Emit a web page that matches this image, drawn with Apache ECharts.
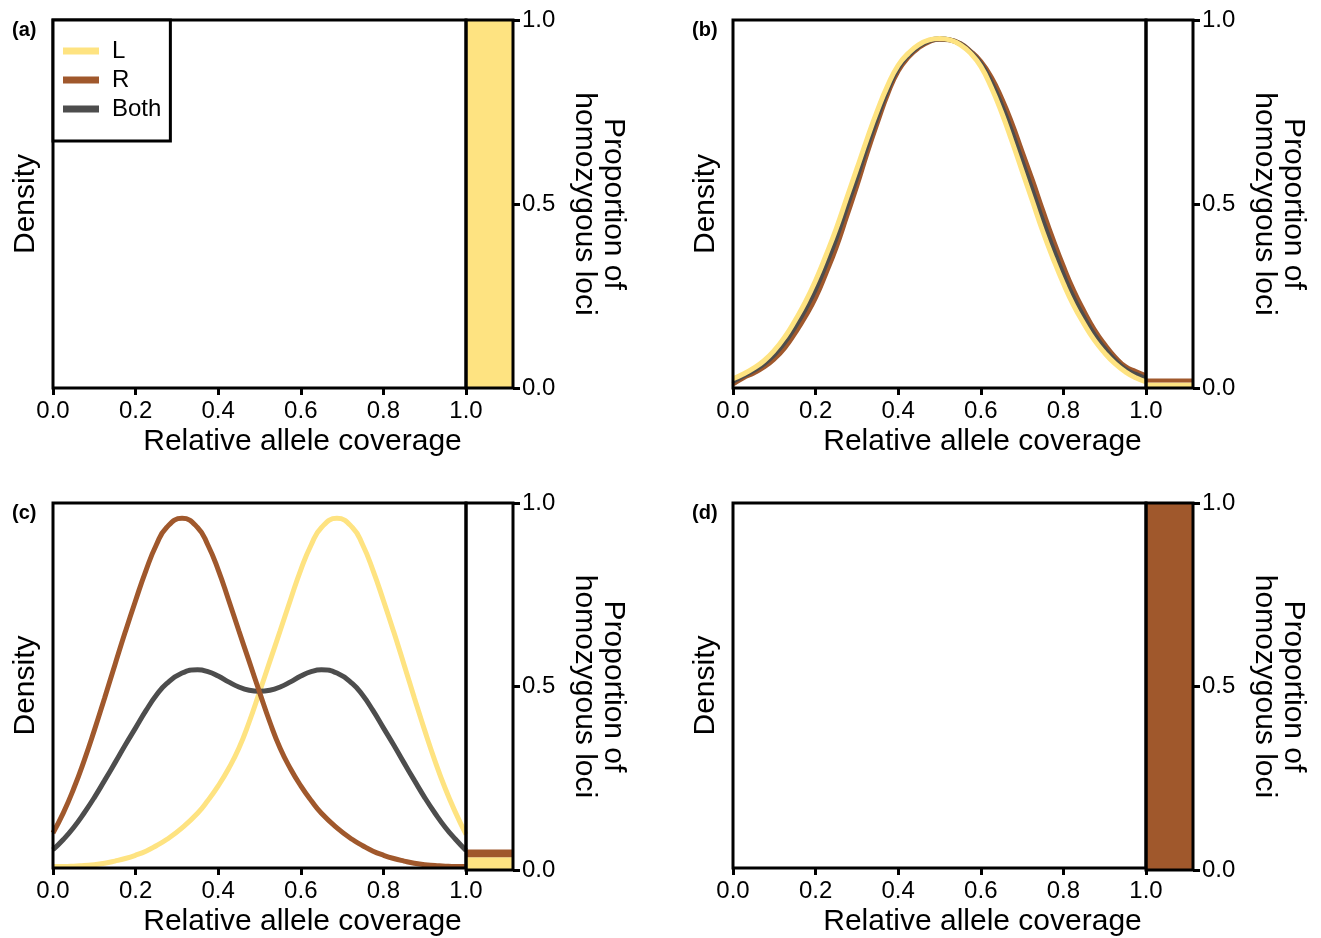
<!DOCTYPE html>
<html>
<head>
<meta charset="utf-8">
<title>Relative allele coverage</title>
<script src="https://cdn.jsdelivr.net/npm/echarts@6/dist/echarts.min.js"></script>
<style>
  html, body { margin: 0; padding: 0; background: #ffffff; }
  #chart { width: 1321px; height: 938px; }
</style>
</head>
<body>
<div id="chart"></div>
<script>
// ---- data ----------------------------------------------------------------
// relative allele coverage at which the panel (b) densities are sampled
const coverageB = [0, 0.025, 0.05, 0.075, 0.1, 0.125, 0.15, 0.175, 0.2, 0.225,
  0.25, 0.275, 0.3, 0.325, 0.35, 0.375, 0.4, 0.425, 0.45, 0.475, 0.5, 0.525,
  0.55, 0.575, 0.6, 0.625, 0.65, 0.675, 0.7, 0.725, 0.75, 0.775, 0.8, 0.825,
  0.85, 0.875, 0.9, 0.925, 0.95, 0.975, 1.0];
// panel (c) samples include the two modes
const coverageC = [0, 0.025, 0.05, 0.075, 0.1, 0.125, 0.15, 0.175, 0.2, 0.225,
  0.25, 0.275, 0.3125, 0.35, 0.375, 0.4, 0.425, 0.45, 0.475, 0.5, 0.525, 0.55,
  0.575, 0.6, 0.625, 0.65, 0.6875, 0.725, 0.75, 0.775, 0.8, 0.825, 0.85, 0.875,
  0.9, 0.925, 0.95, 0.975, 1.0];

const xTicks = [0, 0.2, 0.4, 0.6, 0.8, 1.0];
const proportionTicks = [0, 0.5, 1.0];
const seriesNames = ['L', 'R', 'Both'];
const panelLabels = ['(a)', '(b)', '(c)', '(d)'];

// panel (b): densities (relative units)
const densityB_L = [0.025, 0.038, 0.054, 0.074, 0.102, 0.138, 0.183, 0.233, 0.292, 0.360,
  0.433, 0.515, 0.596, 0.678, 0.755, 0.823, 0.877, 0.910, 0.933, 0.946, 0.950, 0.946,
  0.933, 0.910, 0.874, 0.818, 0.750, 0.672, 0.590, 0.508, 0.426, 0.352, 0.284, 0.224,
  0.174, 0.130, 0.095, 0.066, 0.044, 0.028, 0.017];
const densityB_R = [0.011, 0.028, 0.041, 0.057, 0.079, 0.109, 0.149, 0.194, 0.246, 0.312,
  0.383, 0.466, 0.550, 0.640, 0.723, 0.801, 0.862, 0.900, 0.925, 0.941, 0.948, 0.946,
  0.936, 0.915, 0.887, 0.845, 0.788, 0.720, 0.642, 0.564, 0.482, 0.403, 0.330, 0.264,
  0.208, 0.158, 0.118, 0.084, 0.058, 0.045, 0.033];
const densityB_Both = [0.018, 0.033, 0.048, 0.066, 0.091, 0.124, 0.166, 0.214, 0.269, 0.336,
  0.408, 0.491, 0.573, 0.659, 0.739, 0.812, 0.870, 0.905, 0.929, 0.944, 0.949, 0.946,
  0.935, 0.913, 0.881, 0.832, 0.769, 0.696, 0.616, 0.536, 0.454, 0.378, 0.307, 0.244,
  0.191, 0.144, 0.107, 0.075, 0.051, 0.037, 0.025];

// panel (c): densities (relative units)
const densityC_L = [0.004, 0.004, 0.005, 0.007, 0.009, 0.013, 0.019, 0.026, 0.035, 0.046,
  0.061, 0.078, 0.110, 0.150, 0.185, 0.225, 0.272, 0.328, 0.400, 0.482, 0.566, 0.650,
  0.735, 0.817, 0.885, 0.933, 0.958, 0.933, 0.885, 0.815, 0.733, 0.647, 0.557, 0.466,
  0.377, 0.293, 0.217, 0.151, 0.092];
const densityC_R = [0.096, 0.151, 0.217, 0.293, 0.377, 0.466, 0.557, 0.647, 0.733, 0.815,
  0.885, 0.933, 0.958, 0.933, 0.885, 0.817, 0.735, 0.650, 0.566, 0.482, 0.400, 0.328,
  0.272, 0.225, 0.185, 0.150, 0.110, 0.078, 0.061, 0.046, 0.035, 0.026, 0.019, 0.013,
  0.009, 0.007, 0.005, 0.004, 0.004];
const densityC_Both = [0.050, 0.078, 0.111, 0.150, 0.193, 0.240, 0.288, 0.337, 0.384, 0.431,
  0.473, 0.505, 0.534, 0.543, 0.538, 0.526, 0.510, 0.496, 0.487, 0.484, 0.487, 0.496,
  0.510, 0.526, 0.538, 0.543, 0.534, 0.505, 0.473, 0.431, 0.384, 0.337, 0.288, 0.240,
  0.193, 0.150, 0.111, 0.078, 0.048];

// proportion of homozygous loci per panel (a, b, c, d)
const homozygousL = [1.0, 0.015, 0.035, 0.0];
const homozygousR = [0.0, 0.011, 0.021, 1.0];

// ---- style ---------------------------------------------------------------
const COLORS = { L: '#FEE381', R: '#A0582C', Both: '#4D4D4D' };
const FONT = '"Liberation Sans", Arial, Helvetica, sans-serif';
const FRAME = 3;
const TICK_FONT = 24;
const TITLE_FONT = 30;

// layout of each panel: density plot followed by the narrow homozygous column
const layout = [
  { left: 53,  top: 20,  height: 368 },
  { left: 733, top: 20,  height: 368 },
  { left: 53,  top: 503, height: 367 },
  { left: 733, top: 503, height: 367 }
];
const DENSITY_W = 413;
const BAR_W = 47;

// curves of each panel, in drawing order (later ones on top)
const panelCurves = [
  [],
  [['R', coverageB, densityB_R], ['Both', coverageB, densityB_Both], ['L', coverageB, densityB_L]],
  [['L', coverageC, densityC_L], ['Both', coverageC, densityC_Both], ['R', coverageC, densityC_R]],
  []
];

const fmt1 = v => Number(v).toFixed(1);

const grids = [], xAxes = [], yAxes = [], series = [], titles = [];

layout.forEach((p, i) => {
  const dIdx = 2 * i, bIdx = 2 * i + 1;

  grids.push({
    left: p.left, top: p.top, width: DENSITY_W, height: p.height,
    show: true, borderColor: '#000', borderWidth: FRAME, z: 10,
    backgroundColor: 'transparent'
  });
  grids.push({
    left: p.left + DENSITY_W, top: p.top, width: BAR_W, height: p.height,
    show: true, borderColor: '#000', borderWidth: FRAME, z: 10,
    backgroundColor: 'transparent'
  });

  xAxes.push({
    gridIndex: dIdx, type: 'value', min: 0, max: 1, interval: 0.2,
    axisLine: { show: false },
    axisTick: { show: true, length: 7, lineStyle: { color: '#000', width: FRAME },
                customValues: xTicks },
    axisLabel: { fontSize: TICK_FONT, color: '#000', margin: 11, fontFamily: FONT,
                 formatter: fmt1, customValues: xTicks },
    splitLine: { show: false },
    name: 'Relative allele coverage', nameLocation: 'middle', nameGap: 39,
    nameTextStyle: { fontSize: TITLE_FONT, color: '#000', fontFamily: FONT,
                     padding: [0, 0, 0, 86] }
  });
  yAxes.push({
    gridIndex: dIdx, type: 'value', min: 0, max: 1,
    axisLine: { show: false }, axisTick: { show: false }, axisLabel: { show: false },
    splitLine: { show: false },
    name: 'Density', nameLocation: 'middle', nameGap: 12,
    nameTextStyle: { fontSize: TITLE_FONT, color: '#000', fontFamily: FONT }
  });

  xAxes.push({
    gridIndex: bIdx, type: 'category', data: ['homozygous'], show: false
  });
  yAxes.push({
    gridIndex: bIdx, type: 'value', position: 'right', min: 0, max: 1, interval: 0.5,
    axisLine: { show: false },
    axisTick: { show: true, length: 7, lineStyle: { color: '#000', width: FRAME },
                customValues: proportionTicks },
    axisLabel: { fontSize: TICK_FONT, color: '#000', margin: 9, fontFamily: FONT,
                 formatter: fmt1, customValues: proportionTicks },
    splitLine: { show: false },
    name: 'Proportion of\nhomozygous loci', nameLocation: 'middle', nameRotate: -90, nameGap: 57,
    nameTextStyle: { fontSize: TITLE_FONT, color: '#000', fontFamily: FONT, lineHeight: 29 }
  });

  panelCurves[i].forEach(([name, xs, values]) => {
    series.push({
      name, type: 'line', xAxisIndex: dIdx, yAxisIndex: dIdx,
      data: xs.map((x, k) => [x, values[k]]),
      smooth: 0.5, showSymbol: false, silent: true, clip: true,
      lineStyle: { color: COLORS[name], width: 5 },
      itemStyle: { color: COLORS[name] }
    });
  });

  series.push({
    name: 'L', type: 'bar', xAxisIndex: bIdx, yAxisIndex: bIdx, stack: 'hom' + i,
    data: [homozygousL[i]], barWidth: '100%', silent: true,
    itemStyle: { color: COLORS.L }
  });
  series.push({
    name: 'R', type: 'bar', xAxisIndex: bIdx, yAxisIndex: bIdx, stack: 'hom' + i,
    data: [homozygousR[i]], barWidth: '100%', silent: true,
    itemStyle: { color: COLORS.R }
  });

  titles.push({
    text: panelLabels[i], left: p.left - 41, top: p.top, padding: 0,
    textStyle: { fontSize: 20, fontWeight: 'bold', color: '#000', fontFamily: FONT }
  });
});

const option = {
  animation: false,
  backgroundColor: '#ffffff',
  textStyle: { fontFamily: FONT },
  title: titles,
  grid: grids,
  xAxis: xAxes,
  yAxis: yAxes,
  legend: {
    data: seriesNames.map(n => ({ name: n, itemStyle: { color: COLORS[n] } })),
    left: 53, top: 20, orient: 'vertical', icon: 'rect',
    itemWidth: 36, itemHeight: 7, itemGap: 5,
    padding: [19, 9, 20, 10],
    borderColor: '#000', borderWidth: FRAME, backgroundColor: '#fff',
    selectedMode: false, z: 20,
    textStyle: { fontSize: 24, color: '#000', fontFamily: FONT, padding: [0, 0, 0, 8] }
  },
  series
};

const chart = echarts.init(document.getElementById('chart'), null, { renderer: 'canvas' });
chart.setOption(option);
</script>
</body>
</html>
